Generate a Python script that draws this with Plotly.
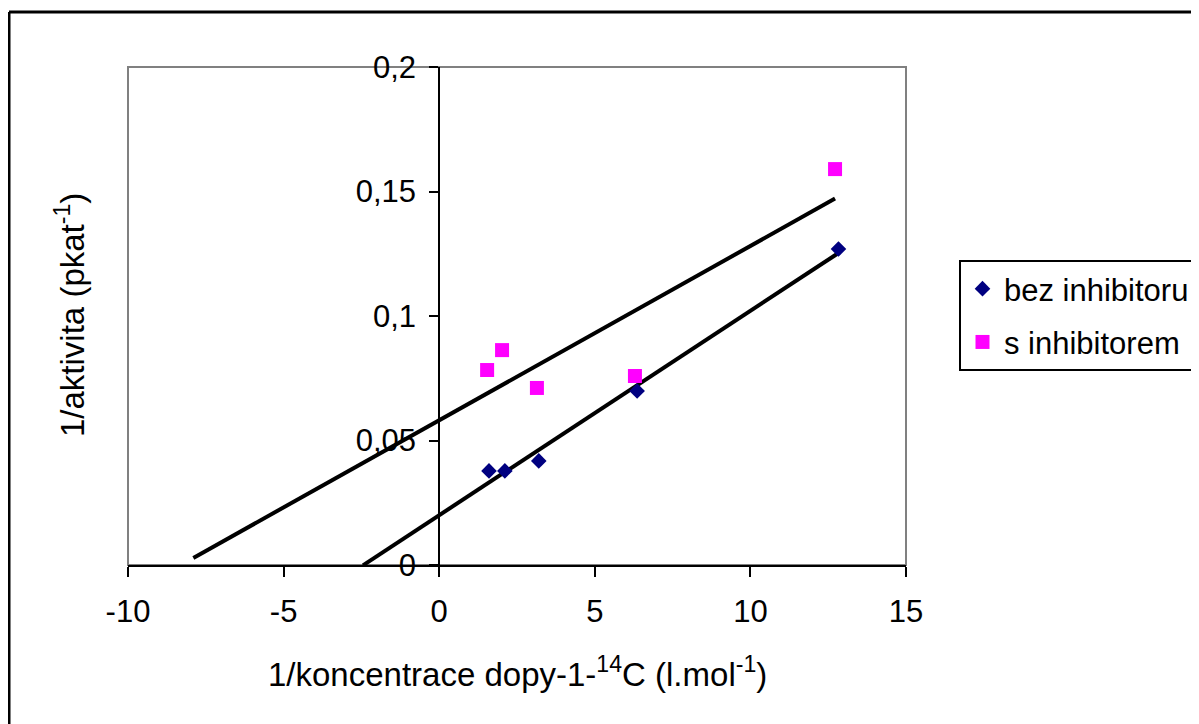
import numpy as np
import plotly.graph_objects as go

# ---- data ----
x_bez = [1.60, 2.11, 3.20, 6.36, 12.83]
y_bez = [0.0378, 0.0378, 0.0418, 0.0699, 0.1269]
x_s = [1.54, 2.02, 3.14, 6.29, 12.72]
y_s = [0.0783, 0.0863, 0.0711, 0.0759, 0.1590]
series_names = ["bez inhibitoru", "s inhibitorem"]
trend_start = [-2.45, -7.9]   # backward forecast start of the linear trendlines
x_ticks = [-10, -5, 0, 5, 10, 15]
x_ticktext = ["-10", "-5", "0", "5", "10", "15"]
y_ticks = [0, 0.05, 0.1, 0.15, 0.2]
y_ticktext = ["0", "0,05", "0,1", "0,15", "0,2"]

FONT = "Arial, Liberation Sans, sans-serif"
FS = 31
FS_TITLE = 33
OFF = 8  # page body margin

fig = go.Figure()

# linear trendlines
for xs, ys, x0 in [(x_bez, y_bez, trend_start[0]), (x_s, y_s, trend_start[1])]:
    k, q = np.polyfit(xs, ys, 1)
    xl = np.array([x0, max(xs)])
    fig.add_trace(go.Scatter(x=xl, y=k * xl + q, mode="lines",
                             line=dict(color="black", width=4),
                             showlegend=False, hoverinfo="skip"))

fig.add_trace(go.Scatter(x=x_bez, y=y_bez, mode="markers", name=series_names[0],
                         legendgroup="a",
                         marker=dict(symbol="diamond", size=12, color="#000080",
                                     line=dict(width=0))))
fig.add_trace(go.Scatter(x=x_s, y=y_s, mode="markers", name=series_names[1],
                         legendgroup="b",
                         marker=dict(symbol="square", size=14, color="#FF00FF",
                                     line=dict(width=0))))

# target page pixel positions
L, R, T, B = 128, 906, 67, 565
W, H = 1199 - OFF, 724 - OFF

def px(xp):
    return (xp - L) / (R - L)

def py(yp):
    return (B - yp) / (B - T)

fig.update_layout(
    width=W, height=H,
    margin=dict(l=L - OFF, r=W - (R - OFF), t=T - OFF, b=H - (B - OFF),
                autoexpand=False),
    paper_bgcolor="white", plot_bgcolor="white",
    separators=", ",
    font=dict(family=FONT, size=FS, color="black"),
    showlegend=True,
    legend=dict(x=px(959), y=py(260), xanchor="left", yanchor="top",
                bordercolor="black", borderwidth=2, bgcolor="white",
                font=dict(family=FONT, size=FS, color="black"),
                tracegroupgap=10, itemwidth=33),
    xaxis=dict(range=[-10, 15], tickvals=x_ticks, ticktext=x_ticktext,
               showgrid=False, zeroline=False,
               showline=True, linecolor="black", linewidth=2,
               ticks="outside", ticklen=10, tickwidth=2, tickcolor="black",
               ticklabelstandoff=8,
               tickfont=dict(family=FONT, size=FS, color="black")),
    yaxis=dict(range=[0, 0.2], tickvals=y_ticks, ticktext=y_ticktext,
               showgrid=False, zeroline=False,
               anchor="free", position=(0 - (-10)) / 25,
               showline=True, linecolor="black", linewidth=2,
               ticks="outside", ticklen=9, tickwidth=2, tickcolor="black",
               ticklabelstandoff=7,
               tickfont=dict(family=FONT, size=FS, color="black")),
)

# plot-area border (gray) and chart outer border (black)
fig.add_shape(type="rect", xref="paper", yref="paper", x0=0, x1=1, y0=0, y1=1,
              line=dict(color="#808080", width=2), layer="below")
fig.add_shape(type="line", xref="paper", yref="paper",
              x0=px(9), x1=px(1260), y0=py(12), y1=py(12),
              line=dict(color="black", width=3))
fig.add_shape(type="line", xref="paper", yref="paper",
              x0=px(9), x1=px(9), y0=py(12), y1=py(780),
              line=dict(color="black", width=3))

# axis titles
fig.add_annotation(xref="paper", yref="paper", x=px(517), y=py(672),
                   text="1/koncentrace dopy-1-<sup>14</sup>C (l.mol<sup>-1</sup>)",
                   showarrow=False, xanchor="center", yanchor="middle",
                   font=dict(family=FONT, size=FS_TITLE, color="black"))
fig.add_annotation(xref="paper", yref="paper", x=px(70), y=py(315),
                   text="1/aktivita (pkat<sup>-1</sup>)", textangle=-90,
                   showarrow=False, xanchor="center", yanchor="middle",
                   font=dict(family=FONT, size=FS_TITLE, color="black"))

fig.write_html("out.html")
